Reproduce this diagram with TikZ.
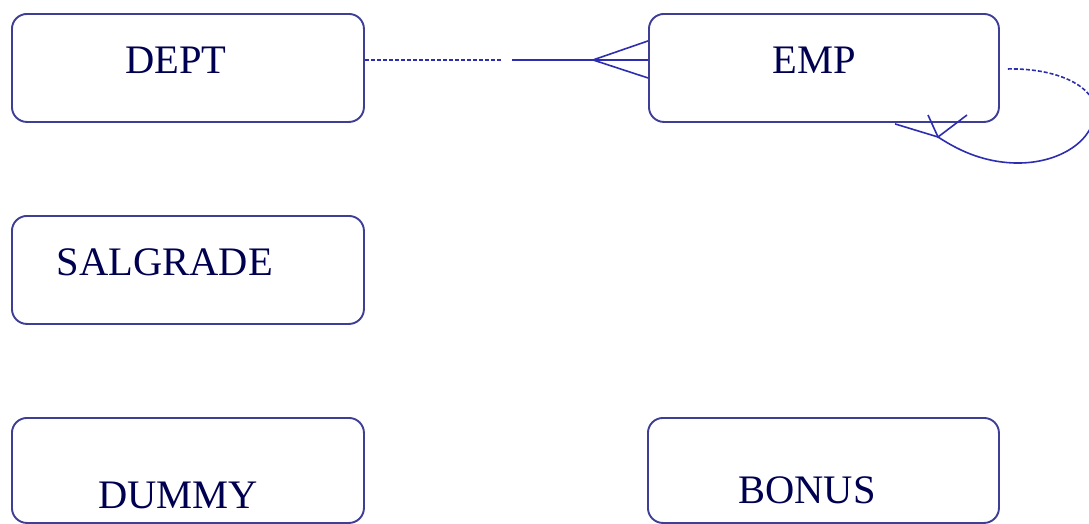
\documentclass[tikz,border=0pt]{standalone}
\usepackage{fontspec}
\setmainfont{Liberation Serif}
\usetikzlibrary{calc}
\definecolor{boxline}{RGB}{62,62,150}
\definecolor{relline}{RGB}{45,45,175}
\definecolor{labeltext}{RGB}{0,0,80}
\tikzset{
  entity/.style={draw=boxline, line width=1.9pt, rounded corners=15pt,
    minimum width=352pt, minimum height=108pt, inner sep=0pt, anchor=north west},
  entname/.style={font=\fontsize{40.5}{40.5}\selectfont, text=labeltext, anchor=base, inner sep=0pt},
  relation/.style={draw=relline, line width=1.6pt},
  optional/.style={relation, dash pattern=on 4pt off 2pt},
}
\begin{document}
\begin{tikzpicture}[x=1pt,y=-1pt]
  \useasboundingbox (0,0) rectangle (1089,523);
  \clip (0,0) rectangle (1089,523);

  % entities
  \node[entity] (dept) at (11,13) {};
  \node[entity, minimum width=350pt] (emp) at (648,13) {};
  \node[entity] (salgrade) at (11,215) {};
  \node[entity, minimum height=105pt] (dummy) at (11,417) {};
  \node[entity, minimum width=351pt, minimum height=105pt] (bonus) at (647,417) {};

  % entity names
  \node[entname] (deptname) at (176,73) {DEPT};
  \node[entname] (empname) at (814,73) {EMP};
  \node[entname] (salgradename) at (165,275) {SALGRADE};
  \node[entname] (dummyname) at (178,508) {DUMMY};
  \node[entname] (bonusname) at (807,503) {BONUS};

  % DEPT (one, optional) -- EMP (many, mandatory)
  \coordinate (dstart) at ([yshift=8pt]dept.east);
  \coordinate (dmid) at ($(dstart)+(137,0)$);
  \coordinate (emid) at ($(dstart)+(147,0)$);
  \coordinate (dfoot) at ([yshift=8pt]emp.west);
  \coordinate (dapex) at ($(dfoot)+(-55,0)$);
  \draw[optional] (dstart) -- (dmid);
  \draw[relation] (emid) -- (dfoot);
  \draw[relation] ([yshift=19pt]dfoot) -- (dapex) -- ([yshift=-18pt]dfoot);

  % EMP manager -- EMP recursive relationship
  \coordinate (lstart) at ($(emp.east)+(8,1)$);
  \coordinate (lright) at (1095,110);
  \coordinate (lapex) at (938,137);
  \coordinate (lend) at ($(emp.south west)+(247,1)$);
  \draw[optional] (lstart) .. controls (1060,68) and (1095,88) .. (lright);
  \draw[relation] (lright) .. controls (1095,140) and (1060,164) .. (1015,163)
                  .. controls (980,162) and (955,148) .. (lapex) -- (lend);
  \draw[relation] (928,115) -- (lapex) -- (967,115);
\end{tikzpicture}
\end{document}
